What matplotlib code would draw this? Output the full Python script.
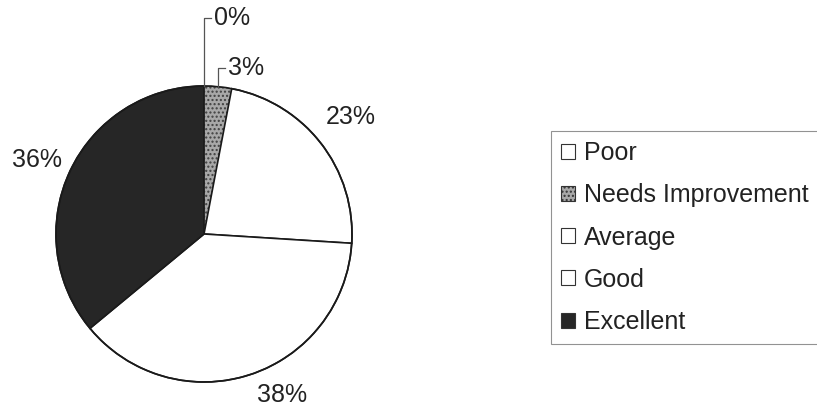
import numpy as np
import matplotlib
matplotlib.use("Agg")
import matplotlib.pyplot as plt
from matplotlib.patches import Patch

plt.rcParams['font.family'] = ['Liberation Sans', 'DejaVu Sans']

categories = ["Poor", "Needs Improvement", "Average", "Good", "Excellent"]
values = [0, 3, 23, 38, 36]
face_colors = ["white", "#a8a8a8", "white", "white", "#262626"]
hatches = [None, "....", None, None, None]

W, H = 817, 415
fig = plt.figure(figsize=(W / 100, H / 100), dpi=100)
cx, cy, r = 204, 234, 148
ax = fig.add_axes([(cx - r) / W, (H - cy - r) / H, 2 * r / W, 2 * r / H])

wedges, _ = ax.pie(values, startangle=90, counterclock=False, radius=1,
                   colors=face_colors,
                   wedgeprops=dict(edgecolor="#1a1a1a", linewidth=1.2))
ax.set_xlim(-1, 1)
ax.set_ylim(-1, 1)
ax.set_aspect("equal")
ax.axis("off")

for w, h in zip(wedges, hatches):
    if h:
        w.set_hatch(h)
        w.set_edgecolor("#404040")
        w.set_linewidth(0.6)

# outline drawn again so the hatched wedge does not soften the rim
circ = plt.Circle((0, 0), 1, fill=False, edgecolor="#1a1a1a", linewidth=1.2, clip_on=False)
ax.add_patch(circ)

# label anchor points (axes data units) for the large slices
big_label_xy = {"Average": (0.99, 0.79), "Good": (0.53, -1.09), "Excellent": (-1.13, 0.50)}

txt = dict(fontsize=18, color="#222222")
total = sum(values)
cum = np.cumsum([0] + values)
for i, (name, v) in enumerate(zip(categories, values)):
    mid = (cum[i] + v / 2) / total * 2 * np.pi  # clockwise from top
    label = f"{v}%"
    if name in big_label_xy:
        lx, ly = big_label_xy[name]
        ax.text(lx, ly, label, ha="center", va="center", clip_on=False, **txt)
    else:
        x0, y0 = np.sin(mid), np.cos(mid)
        ytop = 1.12 if v > 0 else 1.46
        xend = x0 + 0.05
        ax.plot([x0, x0, xend], [y0, ytop, ytop], color="#555555", lw=0.9, clip_on=False)
        ax.text(xend + 0.02, ytop, label, ha="left", va="center", clip_on=False, **txt)

handles = [Patch(facecolor=c, edgecolor="#333333", hatch=h, linewidth=0.8)
           for c, h in zip(face_colors, hatches)]
leg = fig.legend(handles, categories, loc="upper left",
                 bbox_to_anchor=(551 / W, 1 - 131 / H), borderaxespad=0,
                 fontsize=18, handlelength=0.55, handleheight=0.55, handletextpad=0.35,
                 labelspacing=0.73, borderpad=0.4, fancybox=False, frameon=True)
leg.get_frame().set_edgecolor("#777777")
leg.get_frame().set_linewidth(0.8)
for t in leg.get_texts():
    t.set_color("#222222")

fig.savefig("out.png", dpi=100, facecolor="white")
